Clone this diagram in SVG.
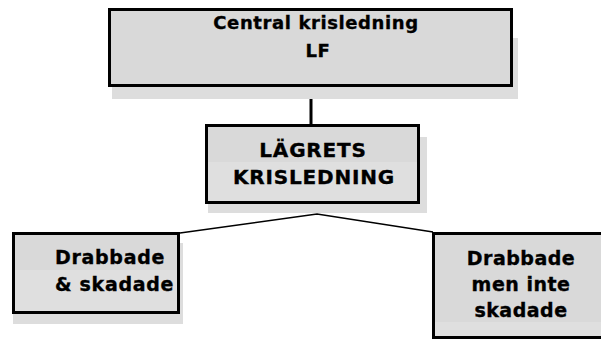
<svg xmlns="http://www.w3.org/2000/svg" width="601" height="341" viewBox="0 0 601 341">
<style>
.box{stroke:#000;stroke-width:3;fill:#d9d9d9}
.shadow{fill:#dddddd}
.lower{fill:#dfdfdf}
.t{font-family:"DejaVu Sans",Verdana,sans-serif;font-weight:bold;fill:#000;stroke:#000;stroke-width:0.35}
.conn{stroke:#000;fill:none}
</style>
<rect width="601" height="341" fill="#fff"/>
<g id="connectors">
<line class="conn" x1="311" y1="87" x2="311" y2="124" stroke-width="3"/>
<polyline class="conn" points="180,233 317,214 433,232" stroke-width="1.5"/>
</g>
<g id="node-central">
<rect class="shadow" x="112" y="38" width="406" height="61" fill="#d9d9d9"/>
<rect class="box" x="109.5" y="9.5" width="402" height="76"/>
<text class="t" font-size="18" letter-spacing="0.6" text-anchor="middle" x="316" y="29">Central krisledning</text>
<text class="t" font-size="18" letter-spacing="0.6" text-anchor="middle" x="318" y="57">LF</text>
</g>
<g id="node-lagrets">
<rect class="shadow" x="208" y="137" width="219" height="76" fill="#e3e3e3"/>
<rect class="box" x="206.5" y="125.5" width="212" height="77"/>
<rect class="lower" x="208" y="162" width="209" height="39"/>
<text class="t" font-size="20" letter-spacing="0.8" text-anchor="middle" x="313" y="157">LÄGRETS</text>
<text class="t" font-size="20" letter-spacing="0.8" text-anchor="middle" x="314" y="184">KRISLEDNING</text>
</g>
<g id="node-drabbade-skadade">
<rect class="shadow" x="13" y="243" width="170" height="81" fill="#e0e0e0"/>
<rect class="box" x="13.5" y="233.5" width="165" height="79"/>
<rect class="lower" x="15" y="270" width="162" height="41"/>
<text class="t" font-size="19" letter-spacing="0.7" x="55" y="264">Drabbade</text>
<text class="t" font-size="19" letter-spacing="0.7" x="55" y="291">&amp; skadade</text>
</g>
<g id="node-drabbade-inte-skadade">
<rect class="box" x="433.5" y="233.5" width="200" height="104"/>
<rect class="lower" x="435" y="322" width="170" height="14"/>
<text class="t" font-size="19" letter-spacing="0.5" text-anchor="middle" x="521" y="265">Drabbade</text>
<text class="t" font-size="19" letter-spacing="0.5" text-anchor="middle" x="521" y="291">men inte</text>
<text class="t" font-size="19" letter-spacing="0.5" text-anchor="middle" x="521" y="317">skadade</text>
</g>
</svg>
